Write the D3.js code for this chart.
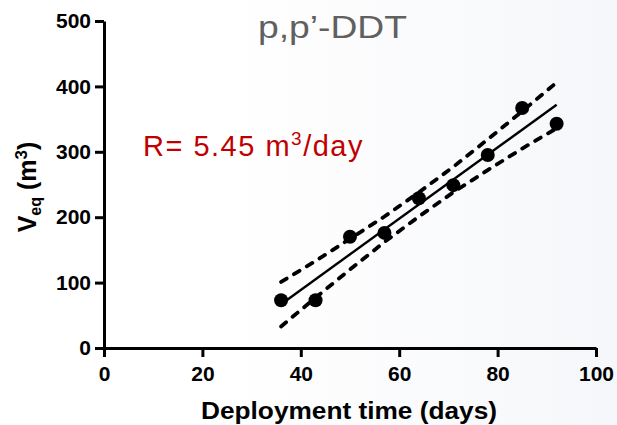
<!DOCTYPE html>
<html>
<head>
<meta charset="utf-8">
<script src="https://cdn.jsdelivr.net/npm/d3@7"></script>
<style>
  body { margin: 0; background: #fff; }
  svg { display: block; font-family: "Liberation Sans", Arial, sans-serif; }
</style>
</head>
<body>
<div id="chart"></div>
<script>
// data
const days = [36, 43, 50, 57, 64, 71, 78, 85, 92];
const veq = [73, 73, 170, 176, 229, 249, 295, 367, 343];
const fitDays = [36, 92];
const fitVeq = [67, 372];
const bandDays = [36, 43, 50, 57, 64, 71, 78, 85, 92];
const bandUpper = [101, 133, 167, 201, 238, 277, 319, 362, 406];
const bandLower = [33, 77, 120, 162, 201, 238, 272, 305, 336];
const xTicks = [0, 20, 40, 60, 80, 100];
const yTicks = [0, 100, 200, 300, 400, 500];

const w = 617, h = 425;

const svg = d3.select("#chart").append("svg")
  .attr("width", w)
  .attr("height", h);

// faint background gradient to the right
const grad = svg.append("defs").append("linearGradient")
  .attr("id", "bg").attr("x1", "0").attr("x2", "1").attr("y1", "0").attr("y2", "0");
grad.append("stop").attr("offset", "0.35").attr("stop-color", "#ffffff");
grad.append("stop").attr("offset", "1").attr("stop-color", "#f6f7fa");
svg.append("rect").attr("width", w).attr("height", h).attr("fill", "url(#bg)");

const x = d3.scaleLinear().domain([0, 100]).range([104, 596]);
const y = d3.scaleLinear().domain([0, 500]).range([348, 21]);

const xAxis = d3.axisBottom(x).tickValues(xTicks).tickSize(9).tickSizeOuter(0).tickPadding(9);
const yAxis = d3.axisLeft(y).tickValues(yTicks).tickSize(9).tickSizeOuter(0).tickPadding(4);

const gx = svg.append("g")
  .attr("transform", "translate(0," + y(0) + ")")
  .call(xAxis);
const gy = svg.append("g")
  .attr("transform", "translate(" + x(0) + ",0)")
  .call(yAxis);

[gx, gy].forEach(g => {
  g.select(".domain").attr("stroke", "#000").attr("stroke-width", 3);
  g.selectAll(".tick line").attr("stroke", "#000").attr("stroke-width", 3);
  g.selectAll(".tick text")
    .attr("fill", "#000")
    .style("font-size", "21px")
    .style("font-weight", "bold")
    .style("font-family", "'Liberation Sans', Arial, sans-serif");
});

// confidence bands
const bandLine = d3.line().x(d => x(d[0])).y(d => y(d[1]));
[bandUpper, bandLower].forEach(arr => {
  svg.append("path")
    .datum(bandDays.map((d, i) => [d, arr[i]]))
    .attr("d", bandLine)
    .attr("fill", "none")
    .attr("stroke", "#000")
    .attr("stroke-width", 3.8)
    .attr("stroke-linecap", "round")
    .attr("stroke-dasharray", "6.5,8.5");
});

// regression line
svg.append("path")
  .datum(fitDays.map((d, i) => [d, fitVeq[i]]))
  .attr("d", bandLine)
  .attr("fill", "none")
  .attr("stroke", "#000")
  .attr("stroke-width", 2.4);

// points
svg.selectAll("circle.pt")
  .data(days)
  .enter()
  .append("circle")
  .attr("class", "pt")
  .attr("cx", d => x(d))
  .attr("cy", (d, i) => y(veq[i]))
  .attr("r", 7)
  .attr("fill", "#000");

// axis titles
svg.append("text")
  .attr("x", 349)
  .attr("y", 419)
  .attr("text-anchor", "middle")
  .attr("textLength", 296)
  .attr("lengthAdjust", "spacingAndGlyphs")
  .style("font-size", "23px")
  .style("font-weight", "bold")
  .text("Deployment time (days)");

const yl = svg.append("text")
  .attr("transform", "translate(36,187) rotate(-90)")
  .attr("text-anchor", "middle")
  .style("font-size", "25px")
  .style("font-weight", "bold");
yl.append("tspan").text("V");
yl.append("tspan").attr("dy", 5).style("font-size", "16px").text("eq");
yl.append("tspan").attr("dy", -5).text(" (m");
yl.append("tspan").attr("dy", -9).style("font-size", "17px").text("3");
yl.append("tspan").attr("dy", 9).text(")");

// title
svg.append("text")
  .attr("x", 258)
  .attr("y", 38)
  .attr("fill", "#606060")
  .attr("textLength", 149)
  .attr("lengthAdjust", "spacingAndGlyphs")
  .style("font-size", "32px")
  .text("p,p\u2019-DDT");

// rate annotation
const rt = svg.append("text")
  .attr("x", 143)
  .attr("y", 156)
  .attr("fill", "#c00000")
  .style("font-size", "29px")
  .style("letter-spacing", "1.5px");
rt.append("tspan").text("R= 5.45 m");
rt.append("tspan").attr("dy", -11).style("font-size", "19px").text("3");
rt.append("tspan").attr("dy", 11).text("/day");
</script>
</body>
</html>
